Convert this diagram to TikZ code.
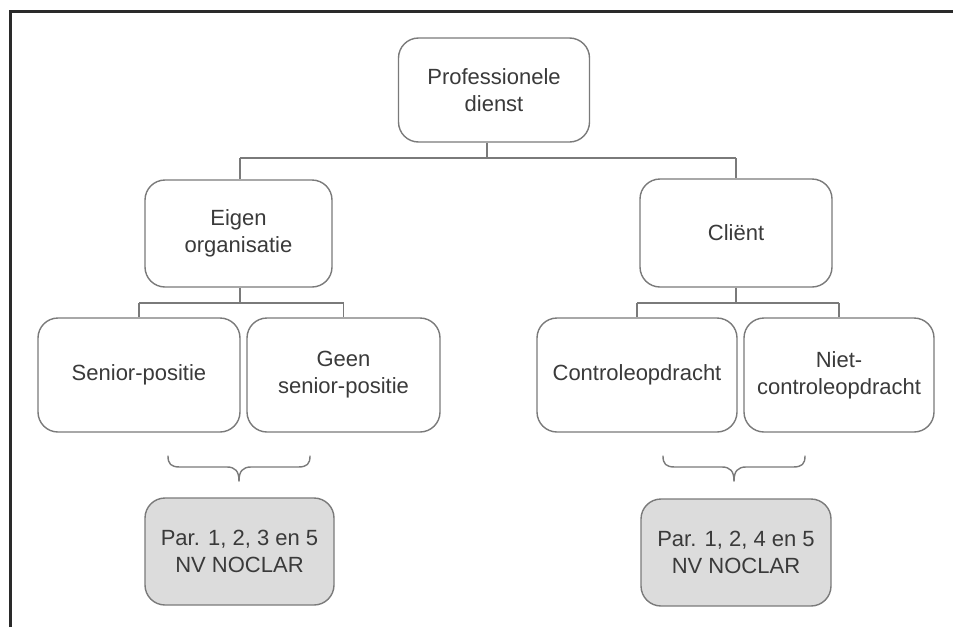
\documentclass[tikz,border=0pt]{standalone}
\usepackage{fontspec}
\setmainfont{Liberation Sans}
\definecolor{linegray}{HTML}{7A7A7A}
\definecolor{txtgray}{HTML}{3A3A3A}
\definecolor{fillgray}{HTML}{DCDCDC}
\definecolor{framecol}{HTML}{2A2A2A}
\begin{document}
\begin{tikzpicture}[x=1pt,y=-1pt,
  box/.style={draw=linegray, line width=1.4pt, rounded corners=20pt, fill=white,
    align=center, text=txtgray, inner sep=0pt,
    font=\fontsize{22}{27}\selectfont},
  graybox/.style={box, fill=fillgray},
  conn/.style={draw=linegray, line width=1.4pt},
  bracecurve/.style={draw=linegray, line width=1.4pt, line cap=round}]
\useasboundingbox (0,0) rectangle (953,627);
\draw[framecol, line width=3pt] (10,627) -- (10,11) -- (953,11);

\node[box, minimum width=191pt, minimum height=104pt] (top) at (494,90) {Professionele\\dienst};
\node[box, minimum width=187pt, minimum height=107pt] (eigen) at (238.5,233.5) {Eigen\\organisatie};
\node[box, minimum width=192pt, minimum height=108pt] (client) at (736,233) {Cliënt};
\node[box, minimum width=202pt, minimum height=114pt] (senior) at (139,375) {Senior-positie};
\node[box, minimum width=193pt, minimum height=114pt] (geen) at (343.5,375) {Geen\\senior-positie};
\node[box, minimum width=200pt, minimum height=114pt] (controle) at (637,375) {Controleopdracht};
\node[box, minimum width=190pt, minimum height=114pt] (niet) at (839,375) {Niet-\\controleopdracht};
\node[graybox, minimum width=189pt, minimum height=107pt] (par1) at (239.5,551.5) {Par. 1, 2, 3 en 5\\NV NOCLAR};
\node[graybox, minimum width=190pt, minimum height=107pt] (par2) at (736,552.5) {Par. 1, 2, 4 en 5\\NV NOCLAR};

% tree connectors
\coordinate (jtop) at (487,158);
\coordinate (jeig) at (240,303);
\coordinate (jcli) at (736,303);
\draw[conn] (top.south -| jtop) -- (jtop);
\draw[conn] (jtop -| jeig) -- (jtop -| client.north);
\draw[conn] (jtop -| jeig) -- (eigen.north -| jeig);
\draw[conn] (jtop -| client.north) -- (client.north);
\draw[conn] (eigen.south -| jeig) -- (jeig);
\draw[conn] (jeig -| senior.north) -- (jeig -| geen.north);
\draw[conn] (jeig -| senior.north) -- (senior.north);
\draw[conn] (jeig -| geen.north) -- (geen.north);
\draw[conn] (client.south) -- (jcli);
\draw[conn] (jcli -| controle.north) -- (jcli -| niet.north);
\draw[conn] (jcli -| controle.north) -- (controle.north);
\draw[conn] (jcli -| niet.north) -- (niet.north);

% braces
\foreach \xa/\xc/\xb in {168/239/310, 663/734/805}{
  \draw[bracecurve] (\xa,456) .. controls (\xa,464) and (\xa+3,467) .. (\xa+12,467)
    -- (\xc-12,467) .. controls (\xc-4,467) and (\xc,471) .. (\xc,481);
  \draw[bracecurve] (\xb,456) .. controls (\xb,464) and (\xb-3,467) .. (\xb-12,467)
    -- (\xc+12,467) .. controls (\xc+4,467) and (\xc,471) .. (\xc,481);
}
\end{tikzpicture}
\end{document}
